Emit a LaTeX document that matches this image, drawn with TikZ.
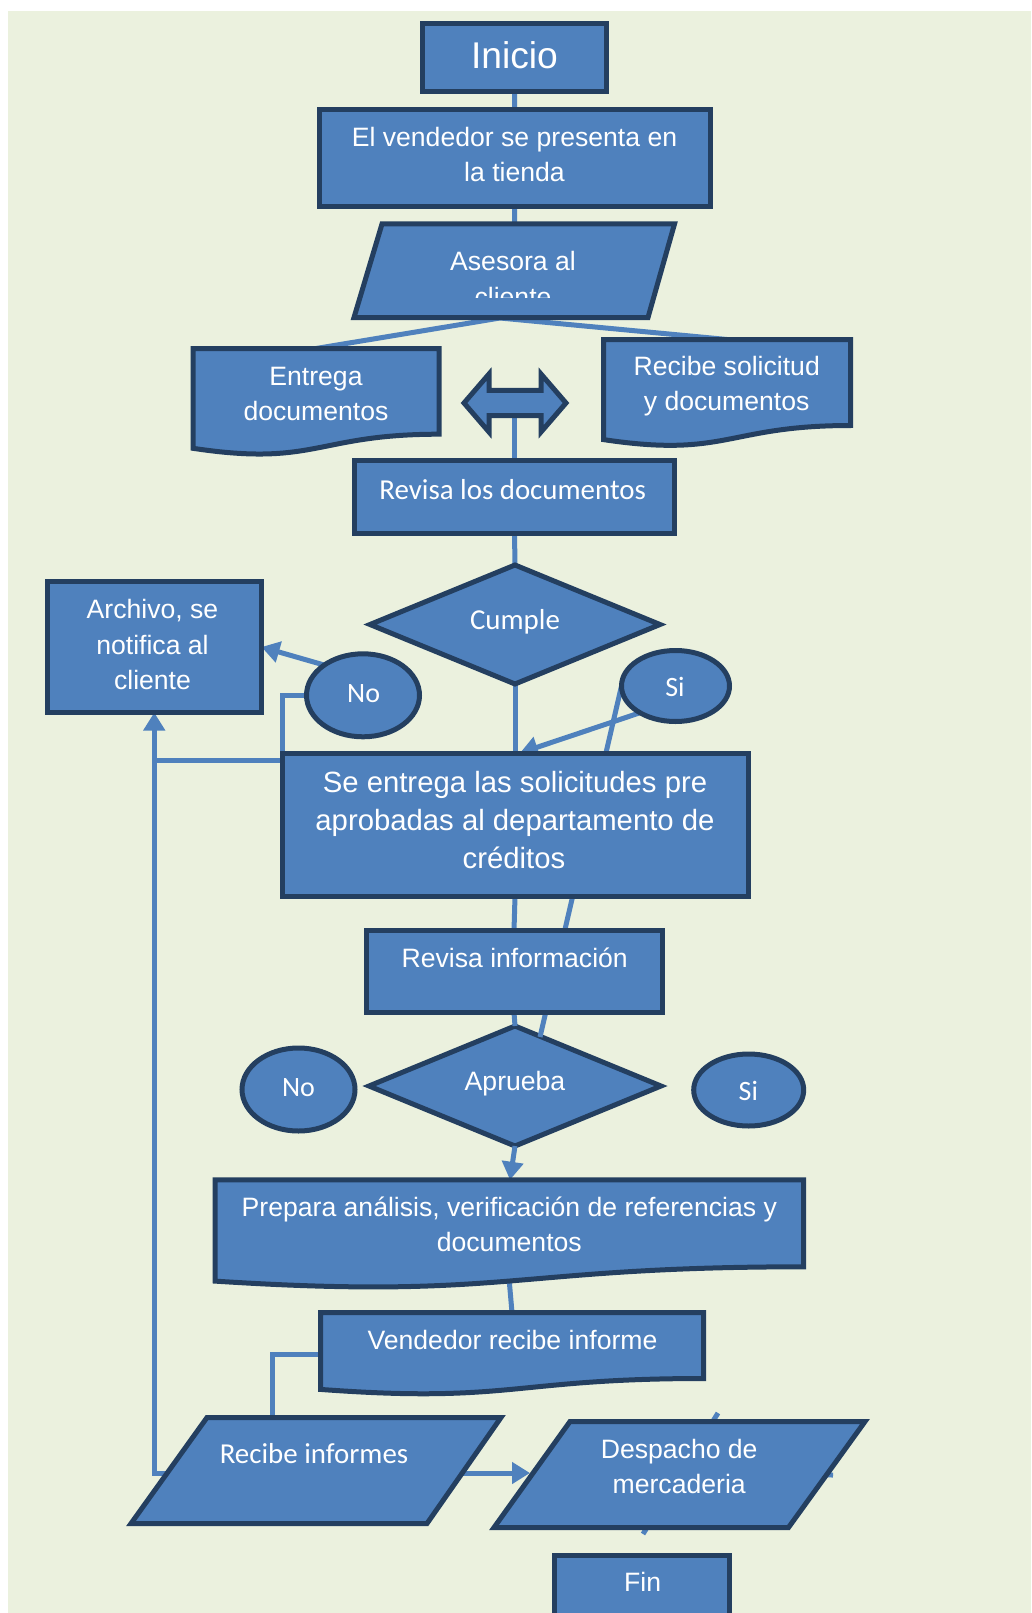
\documentclass[tikz,border=0pt]{standalone}
\usepackage{fontspec}
\setmainfont{Liberation Sans}
\newfontfamily\calib{Carlito}
\usetikzlibrary{shapes.geometric,arrows.meta}
\pgfdeclarelayer{paper}
\pgfdeclarelayer{wires}
\pgfsetlayers{paper,wires,main}

\definecolor{paperbg}{HTML}{EBF1DE}
\definecolor{fillblue}{HTML}{4F81BD}
\definecolor{edgeblue}{HTML}{243F60}
\definecolor{linkblue}{HTML}{4F81BD}

\begin{document}
\begin{tikzpicture}[x=1pt,y=-1pt,
  blk/.style={fill=fillblue, draw=edgeblue, line width=5pt, inner sep=0pt, outer sep=0pt},
  rbox/.style={blk, rectangle},
  dbox/.style={blk, diamond},
  obox/.style={blk, ellipse},
  txt/.style={text=white, inner sep=0pt, anchor=base, font=\fontsize{26.6}{32}\selectfont},
  txtc/.style={txt, font=\calib\fontsize{28.9}{34}\selectfont},
  txtk/.style={txt, font=\calib\fontsize{28}{33}\selectfont},
  link/.style={draw=linkblue, line width=5pt},
  arr/.style={link, -{Triangle[length=18pt,width=21pt]}}]

\useasboundingbox (0,0) rectangle (1031,1613);

% page and sheet
\begin{pgfonlayer}{paper}
  \fill[white] (0,0) rectangle (1031,1613);
  \fill[paperbg] (8,11) rectangle (1031,1613);
\end{pgfonlayer}

% ---------- shapes ----------
\node[rbox, minimum width=184pt, minimum height=68pt] (inicio) at (514.5,57.5) {};
\node[rbox, minimum width=390.5pt, minimum height=97pt] (vend) at (514.75,158) {};

% parallelogram: Asesora al cliente
\draw[blk] (382,224) -- (674.5,224) -- (648,317.5) -- (354,317.5) -- cycle;
\coordinate (ases-t) at (514.5,224);
\coordinate (ases-b) at (500,318);

% document: Entrega documentos
\draw[blk] (193,348.5) -- (439,348.5) -- (439,434.2)
  .. controls (316,434.2) and (316,466.9) .. (193,448.3) -- cycle;
\coordinate (entr-t) at (316,348.5);

% document: Recibe solicitud y documentos
\draw[blk] (603.5,339.5) -- (850.5,339.5) -- (850.5,425.5)
  .. controls (727,425.5) and (727,458.2) .. (603.5,439.6) -- cycle;
\coordinate (recs-t) at (727,339.5);

% left-right block arrow
\draw[blk] (464,403) -- (489,374) -- (489,390.3) -- (541,390.3) -- (541,374)
  -- (566,403) -- (541,432) -- (541,415.7) -- (489,415.7) -- (489,432) -- cycle;
\coordinate (dbl-b) at (514.5,412);

\node[rbox, minimum width=320pt, minimum height=73pt] (revd) at (514.5,497) {};
\node[dbox, minimum width=290pt, minimum height=119pt] (cumple) at (515,624.5) {};
\node[rbox, minimum width=214.5pt, minimum height=131pt] (archivo) at (154.25,647) {};
\node[obox, minimum width=113pt, minimum height=83pt] (no1) at (363,695.3) {};
\node[obox, minimum width=108pt, minimum height=71pt] (si1) at (675.5,686) {};
\node[rbox, minimum width=466pt, minimum height=143.5pt] (sent) at (515,824.75) {};
\node[rbox, minimum width=296pt, minimum height=82pt] (revi) at (514,971.5) {};

\begin{pgfonlayer}{wires}
  \node[dbox, minimum width=292pt, minimum height=120pt] (aprueba) at (515,1086) {};
\end{pgfonlayer}
\coordinate (apr-x) at (540,1037);

\node[obox, minimum width=113pt, minimum height=83pt] (no2) at (298.5,1089.5) {};
\node[obox, minimum width=110pt, minimum height=72pt] (si2) at (748.7,1090) {};

% document: Prepara analisis
\draw[blk] (215,1179.8) -- (803.5,1179.8) -- (803.5,1266.8)
  .. controls (509.25,1266.8) and (509.25,1300) .. (215,1281.1) -- cycle;
\coordinate (prep-t) at (510,1179.8);
\coordinate (prep-b) at (509.25,1281);

% document: Vendedor recibe informe
\draw[blk] (320.5,1312.5) -- (703.5,1312.5) -- (703.5,1378.5)
  .. controls (512,1378.5) and (512,1403.6) .. (320.5,1389.4) -- cycle;
\coordinate (vrec-t) at (512,1312.5);
\coordinate (vrec-l) at (320.5,1354);

% parallelogram: Recibe informes
\draw[blk] (207,1417.5) -- (501,1417.5) -- (427,1523.5) -- (131,1523.5) -- cycle;
\coordinate (rinf-t) at (272.5,1417.5);
\coordinate (rinf-l) at (166,1473);
\coordinate (rinf-r) at (460,1473);

% parallelogram: Despacho de mercaderia
\draw[blk] (570,1421.5) -- (865,1421.5) -- (788.5,1527.5) -- (494,1527.5) -- cycle;
\coordinate (desp-l) at (530,1473);
\coordinate (desp-a) at (718,1413);
\coordinate (desp-b) at (643,1534);
\coordinate (desp-c) at (760,1474);
\coordinate (desp-r) at (833,1475);

\node[rbox, minimum width=175pt, minimum height=95pt] (fin) at (641.5,1602.5) {};

\coordinate (loopj) at (154.25,760);

% ---------- connectors (behind the shapes) ----------
\begin{pgfonlayer}{wires}
  \draw[link] (inicio.south) -- (vend.north);
  \draw[link] (vend.south) -- (ases-t);
  \draw[link] (entr-t) -- (ases-b) -- (recs-t);
  \draw[link] (dbl-b) -- (revd.north);
  \draw[link] (revd.south) -- (cumple.north);
  \draw[link] (cumple.south) -- (sent.north);
  \draw[arr] (no1.142) -- (archivo.east);
  \draw[link] (no1.west) -| (sent.north west);
  \draw[arr] (rinf-l) -| (archivo.south);
  \draw[link] (loopj) -- (loopj -| sent.west);
  \draw[arr] (si1.217) -- ([xshift=5pt]sent.north);
  \draw[link] (si1.west) -- (apr-x);
  \draw[link] (sent.south) -- (revi.north);
  \draw[link] (revi.south) -- (aprueba.north);
  \draw[arr] (aprueba.south) -- (prep-t);
  \draw[link] (prep-b) -- (vrec-t);
  \draw[link] (vrec-l) -| (rinf-t);
  \draw[arr] (rinf-r) -- (desp-l);
  \draw[link] (desp-a) -- (desp-b);
  \draw[link] (desp-c) -- (desp-r);
\end{pgfonlayer}

% ---------- texts ----------
\node[txt, font=\fontsize{37.2}{44}\selectfont] (t-inicio) at (514.5,68.3) {Inicio};
\node[txt] (t-vend1) at (514.5,147) {El vendedor se presenta en};
\node[txt] (t-vend2) at (514.5,182) {la tienda};
\node[txt] (t-ases1) at (513,270) {Asesora al};
\begin{scope}
  \clip (354,230) rectangle (674,297.3);
  \node[txt] (t-ases2) at (513,306) {cliente};
\end{scope}
\node[txt] (t-entr1) at (316,385.5) {Entrega};
\node[txt] (t-entr2) at (316,420.5) {documentos};
\node[txt] (t-recs1) at (726.7,375) {Recibe solicitud};
\node[txt] (t-recs2) at (726.7,410) {y documentos};
\node[txtc] (t-revd) at (512.7,499.3) {Revisa los documentos};
\node[txtc] (t-cumple) at (515,629.3) {Cumple};
\node[txt] (t-arch1) at (152.5,618.5) {Archivo, se};
\node[txt] (t-arch2) at (152.5,654) {notifica al};
\node[txt] (t-arch3) at (152.5,689) {cliente};
\node[txtk] (t-no1) at (363.6,702.7) {No};
\node[txtk] (t-si1) at (675,696) {Si};
\node[txt, font=\fontsize{29.3}{35}\selectfont] (t-sent1) at (515,792.7) {Se entrega las solicitudes pre};
\node[txt, font=\fontsize{29.3}{35}\selectfont] (t-sent2) at (515,830) {aprobadas al departamento de};
\node[txt, font=\fontsize{29.3}{35}\selectfont] (t-sent3) at (514,868.3) {créditos};
\node[txt] (t-revi) at (514.7,967.7) {Revisa información};
\node[txt] (t-apr) at (515,1090.7) {Aprueba};
\node[txtk] (t-no2) at (298.5,1096.7) {No};
\node[txtk] (t-si2) at (748.3,1100) {Si};
\node[txt] (t-prep1) at (509.3,1216.7) {Prepara análisis, verificación de referencias y};
\node[txt] (t-prep2) at (509.3,1251.7) {documentos};
\node[txt] (t-vrec) at (512.5,1349.3) {Vendedor recibe informe};
\node[txtc] (t-rinf) at (314,1463.3) {Recibe informes};
\node[txt] (t-desp1) at (679.2,1458.3) {Despacho de};
\node[txt] (t-desp2) at (679.2,1493.3) {mercaderia};
\node[txt] (t-fin) at (642.7,1591) {Fin};

\end{tikzpicture}
\end{document}
